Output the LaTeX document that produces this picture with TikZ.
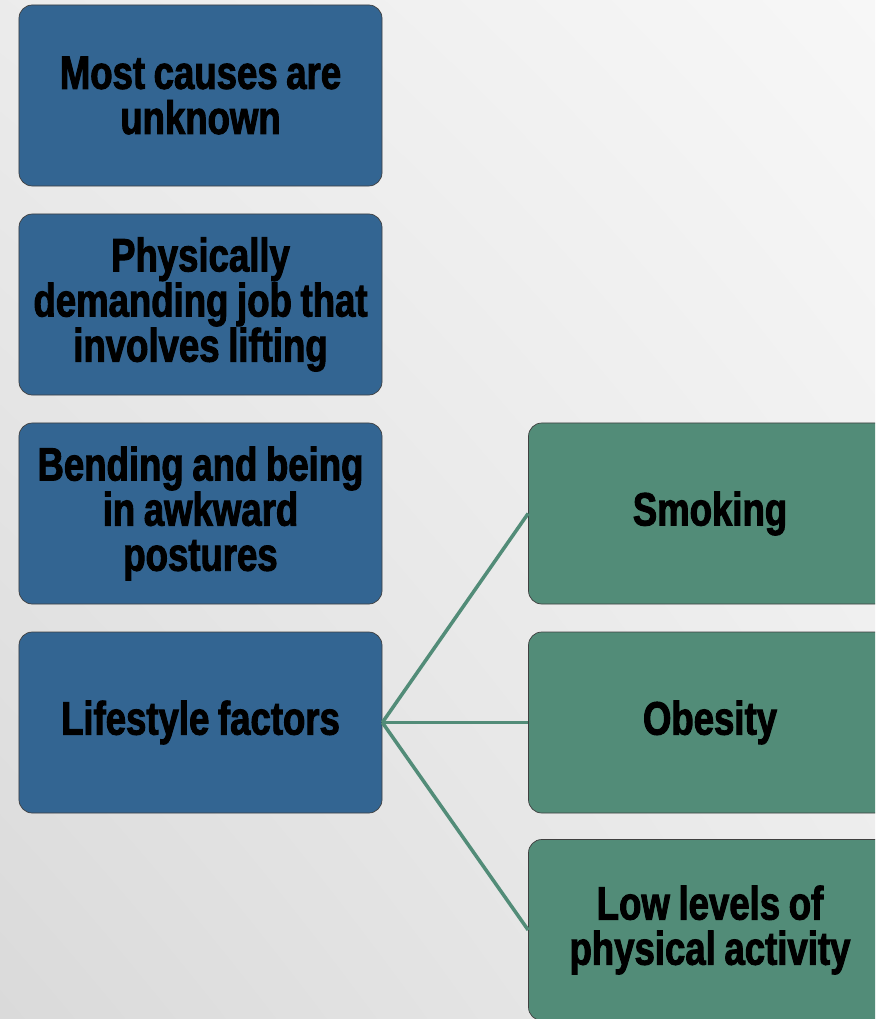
\documentclass[tikz,border=0pt]{standalone}
\usepackage{fontspec}
\setmainfont{Liberation Sans}[FakeStretch=0.78, FakeBold=2, WordSpace=0.85]
\usepackage{xcolor}
\usetikzlibrary{shadings}
\definecolor{causeblue}{HTML}{336592}
\definecolor{factorgreen}{HTML}{528C78}
\definecolor{bgtop}{HTML}{F7F7F7}
\definecolor{bgbottom}{HTML}{DADADA}

\begin{document}
\begin{tikzpicture}[x = 0.03cm, y = -0.03cm,
        box/.style = {draw = black!75, line width = 0.6pt, rounded corners = 0.4cm,
            minimum width = 10.89cm, minimum height = 5.43cm, text width = 10.85cm,
            align = flush center, inner sep = 0pt,
            font = \fontsize{40}{38.5}\selectfont\bfseries},
        cause/.style = {box, fill = causeblue},
        factor/.style = {box, fill = factorgreen},
        link/.style = {draw = factorgreen, line width = 3pt}]
        \useasboundingbox (0,0) rectangle (875,1019);
        \clip (0,0) rectangle (875,1019);
        \shade[lower left = bgbottom, upper right = bgtop, lower right = bgtop!60!bgbottom,
            upper left = bgtop!60!bgbottom] (0,0) rectangle (875,1019);
        \node[cause] (unknown) at (200.5, 95.5) {Most causes are\\unknown};
        \node[cause] (lifting) at (200.5, 304.5) {Physically\\demanding job that\\involves lifting};
        \node[cause] (bending) at (200.5, 513.5) {Bending and being\\in awkward\\postures};
        \node[cause] (lifestyle) at (200.5, 722.5) {Lifestyle factors};
        \node[factor] (smoking) at (710, 513.5) {Smoking};
        \node[factor] (obesity) at (710, 722.5) {Obesity};
        \node[factor] (activity) at (710, 930) {Low levels of\\physical activity};
        \draw[link] (lifestyle.east) -- (smoking.west);
        \draw[link] (lifestyle.east) -- (obesity.west);
        \draw[link] (lifestyle.east) -- (activity.west);
    \end{tikzpicture}
\end{document}
